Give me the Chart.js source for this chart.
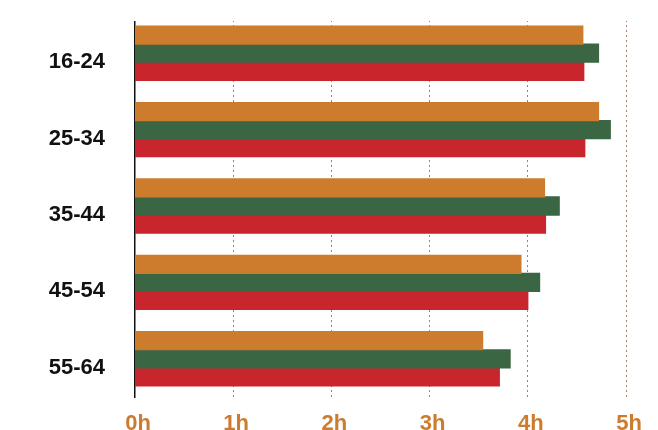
<!DOCTYPE html>
<html>
<head>
<meta charset="utf-8">
<script src="https://cdn.jsdelivr.net/npm/chart.js@4"></script>
<style>
  html, body { margin: 0; padding: 0; background: #fff; }
</style>
</head>
<body>
<canvas id="hoursChart" width="658" height="430"></canvas>
<script>
// Age groups and average hours per series
const ageGroups = ['16-24', '25-34', '35-44', '45-54', '55-64'];
const seriesA = [4.56, 4.72, 4.17, 3.93, 3.54];   // orange
const seriesB = [4.72, 4.84, 4.32, 4.12, 3.82];   // green
const seriesC = [4.57, 4.58, 4.18, 4.00, 3.71];   // red
const hourTicks = ['0h', '1h', '2h', '3h', '4h', '5h'];

const ORANGE = '#cd7b2d';
const GREEN = '#3a6644';
const RED = '#c9252d';
const FONT = '"Liberation Sans", Arial, sans-serif';

// keep the grid lines from running into the very top of the plot
const trimTop = {
  id: 'trimTop',
  beforeDatasetsDraw(chart) {
    const { ctx, chartArea } = chart;
    ctx.save();
    ctx.fillStyle = '#fff';
    ctx.fillRect(chartArea.left - 2, chartArea.top - 1, chartArea.right - chartArea.left + 6, 7);
    ctx.restore();
  }
};

const ctx = document.getElementById('hoursChart').getContext('2d');
new Chart(ctx, {
  type: 'bar',
  data: {
    labels: ageGroups,
    datasets: [
      { data: seriesA, backgroundColor: ORANGE },
      { data: seriesB, backgroundColor: GREEN },
      { data: seriesC, backgroundColor: RED }
    ]
  },
  options: {
    indexAxis: 'y',
    responsive: false,
    animation: false,
    datasets: {
      bar: { barPercentage: 1, categoryPercentage: 0.71, borderWidth: 0, inflateAmount: 0.6 }
    },
    layout: { padding: { top: 15, right: 32, left: 0, bottom: 0 } },
    plugins: {
      legend: { display: false },
      tooltip: { enabled: false }
    },
    scales: {
      x: {
        min: 0,
        max: 5,
        ticks: {
          stepSize: 1,
          padding: 14,
          labelOffset: 3,
          color: ORANGE,
          font: { family: FONT, size: 22, weight: 'bold' },
          callback: (v) => hourTicks[v]
        },
        grid: {
          color: (c) => c.index === 0 ? 'rgba(0,0,0,0)' : '#a0806f',
          drawTicks: false
        },
        border: { display: false, dash: [2, 3] },
        afterFit: (s) => { s.height = 33; }
      },
      y: {
        ticks: {
          padding: 30,
          labelOffset: 9,
          color: '#111',
          font: { family: FONT, size: 22, weight: 'bold' }
        },
        grid: { display: false, drawTicks: false },
        border: { display: true, color: '#111', width: 1.5 },
        afterFit: (s) => {
          s.width = 135;
          s.paddingTop = 0;
          s.paddingBottom = 0;
        }
      }
    }
  },
  plugins: [trimTop]
});
</script>
</body>
</html>
